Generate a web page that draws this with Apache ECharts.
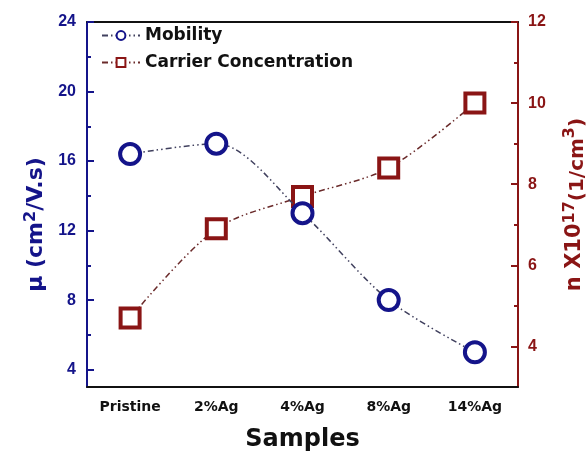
<!DOCTYPE html>
<html>
<head>
<meta charset="utf-8">
<script src="https://cdn.jsdelivr.net/npm/echarts@6/dist/echarts.min.js"></script>
<style>
  html, body { margin: 0; padding: 0; background: #ffffff; }
  #chart { width: 586px; height: 457px; }
</style>
</head>
<body>
<div id="chart"></div>
<script>
// Sample names along the x axis
const samples = ['Pristine', '2%Ag', '4%Ag', '8%Ag', '14%Ag'];
// Hall mobility, cm^2/V.s (left axis)
const mobility = [16.4, 17.0, 13.0, 8.0, 5.0];
// Carrier concentration, x10^17 1/cm^3 (right axis)
const carrierConc = [4.7, 6.9, 7.7, 8.4, 10.0];
// Tick values for both value axes
const mobilityTicks = [4, 8, 12, 16, 20, 24];
const mobilityMinorTicks = [6, 10, 14, 18, 22];
const carrierTicks = [4, 6, 8, 10, 12];
const carrierMinorTicks = [5, 7, 9, 11];

const NAVY = '#14148a';
const DARKRED = '#8a1515';
const NUM_FONT = '"Liberation Sans", Arial, sans-serif';
const WIDE_FONT = '"DejaVu Sans", Verdana, sans-serif';

const chart = echarts.init(document.getElementById('chart'), null, { renderer: 'canvas' });

// dash - dot - dot pattern for the connecting curves
const dashDotDot = [6, 3, 1.5, 3, 1.5, 3];

chart.setOption({
  animation: false,
  backgroundColor: '#ffffff',
  textStyle: { fontFamily: NUM_FONT },
  grid: { left: 87, right: 68, top: 22, bottom: 70, outerBoundsMode: 'none' },
  legend: {
    left: 101,
    top: 27,
    padding: 0,
    orient: 'vertical',
    itemGap: 10,
    itemWidth: 38,
    itemHeight: 11,
    textStyle: { fontFamily: WIDE_FONT, fontSize: 17, fontWeight: 'bold', color: '#111' },
    data: ['Mobility', 'Carrier Concentration']
  },
  xAxis: [
    {
      type: 'category',
      data: samples,
      position: 'bottom',
      boundaryGap: true,
      name: 'Samples',
      nameLocation: 'middle',
      nameGap: 41,
      nameTextStyle: { fontFamily: WIDE_FONT, fontSize: 24, fontWeight: 'bold', color: '#111' },
      axisLine: { lineStyle: { color: '#111', width: 2 } },
      axisTick: { alignWithLabel: true, length: 7, lineStyle: { color: '#111', width: 2 } },
      axisLabel: { margin: 13, fontFamily: WIDE_FONT, fontSize: 14, fontWeight: 'bold', color: '#111' },
      splitLine: { show: false }
    },
    {
      type: 'category',
      data: samples,
      position: 'bottom',
      boundaryGap: true,
      axisLine: { show: false },
      axisTick: { length: 4, lineStyle: { color: '#111', width: 2 } },
      axisLabel: { show: false },
      splitLine: { show: false }
    },
    {
      type: 'category',
      data: samples,
      position: 'top',
      axisLine: { lineStyle: { color: '#111', width: 2 } },
      axisTick: { show: false },
      axisLabel: { show: false },
      splitLine: { show: false }
    }
  ],
  yAxis: [
    {
      type: 'value',
      position: 'left',
      min: 3,
      max: 24,
      name: '{b|\u03bc (cm}{sup|2}{b|/V.s)}',
      nameLocation: 'middle',
      nameRotate: 90,
      nameGap: 34,
      nameTextStyle: {
        padding: [0, 40, 0, 0],
        rich: {
          b: { fontFamily: WIDE_FONT, fontSize: 22, fontWeight: 'bold', color: NAVY, lineHeight: 26 },
          sup: { fontFamily: WIDE_FONT, fontSize: 16, fontWeight: 'bold', color: NAVY, lineHeight: 14, verticalAlign: 'top' }
        }
      },
      axisLine: { show: true, lineStyle: { color: NAVY, width: 2 } },
      axisTick: { show: true, inside: true, length: 7, customValues: mobilityTicks, lineStyle: { color: NAVY, width: 2 } },
      axisLabel: { customValues: mobilityTicks, margin: 11, fontFamily: NUM_FONT, fontSize: 16, fontWeight: 'bold', color: NAVY },
      splitLine: { show: false }
    },
    {
      type: 'value',
      position: 'right',
      min: 3,
      max: 12,
      name: '{b|n X10}{sup|17}{sub|(1/cm}{sup|3}{sub|)}',
      nameLocation: 'middle',
      nameRotate: 90,
      nameGap: 44,
      nameTextStyle: {
        padding: [0, 0, 0, 0],
        rich: {
          b: { fontFamily: WIDE_FONT, fontSize: 21, fontWeight: 'bold', color: DARKRED, lineHeight: 26 },
          sup: { fontFamily: WIDE_FONT, fontSize: 16, fontWeight: 'bold', color: DARKRED, lineHeight: 14, verticalAlign: 'top' },
          sub: { fontFamily: WIDE_FONT, fontSize: 20, fontWeight: 'bold', color: DARKRED, lineHeight: 19, verticalAlign: 'bottom' }
        }
      },
      axisLine: { show: true, lineStyle: { color: DARKRED, width: 2 } },
      axisTick: { show: true, inside: true, length: 7, customValues: carrierTicks, lineStyle: { color: DARKRED, width: 2 } },
      axisLabel: { customValues: carrierTicks, margin: 10, fontFamily: NUM_FONT, fontSize: 16, fontWeight: 'bold', color: DARKRED },
      splitLine: { show: false }
    },
    {
      type: 'value',
      position: 'left',
      min: 3,
      max: 24,
      axisLine: { show: false },
      axisTick: { show: true, inside: true, length: 4, customValues: mobilityMinorTicks, lineStyle: { color: NAVY, width: 2 } },
      axisLabel: { show: false },
      splitLine: { show: false }
    },
    {
      type: 'value',
      position: 'right',
      min: 3,
      max: 12,
      axisLine: { show: false },
      axisTick: { show: true, inside: true, length: 4, customValues: carrierMinorTicks, lineStyle: { color: DARKRED, width: 2 } },
      axisLabel: { show: false },
      splitLine: { show: false }
    }
  ],
  series: [
    {
      name: 'Mobility',
      type: 'line',
      xAxisIndex: 0,
      yAxisIndex: 0,
      data: mobility,
      smooth: 0.3,
      symbol: 'circle',
      symbolSize: 20,
      itemStyle: { color: '#ffffff', borderColor: NAVY, borderWidth: 4 },
      lineStyle: { color: '#40405e', width: 1.5, type: dashDotDot },
      z: 3
    },
    {
      name: 'Carrier Concentration',
      type: 'line',
      xAxisIndex: 0,
      yAxisIndex: 1,
      data: carrierConc,
      smooth: 0.3,
      symbol: 'rect',
      symbolSize: 19,
      itemStyle: { color: '#ffffff', borderColor: DARKRED, borderWidth: 4 },
      lineStyle: { color: '#6a2a2a', width: 1.5, type: dashDotDot },
      z: 2
    }
  ]
});
</script>
</body>
</html>
